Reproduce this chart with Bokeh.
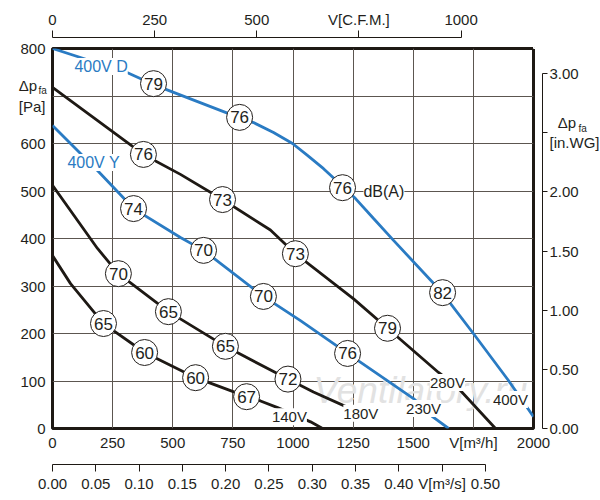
from bokeh.plotting import figure
from bokeh.models import LinearAxis, Range1d, FixedTicker, Label, NumeralTickFormatter
from bokeh.core.properties import value
from bokeh.embed import file_html
from bokeh.resources import INLINE

# fan curves: air volume V [m3/h] against static pressure dp_fa [Pa]
d400_q = [0, 312, 420, 773, 836, 919, 998, 1060, 1127, 1206, 1260, 1335, 1418, 1617, 1750, 1896, 2000]
d400_p = [800, 749, 724, 655, 644, 623, 600, 575, 547, 510, 484, 442, 396, 288, 200, 101, 25]

y400_q = [0, 187, 337, 532, 628, 877, 1031, 1227, 1501, 1580, 1647]
y400_p = [638, 543, 463, 402, 375, 278, 227, 158, 63, 25, 0]

v280_q = [0, 378, 532, 707, 906, 1010, 1252, 1393, 1605, 1676, 1842]
v280_p = [718, 577, 535, 482, 418, 368, 273, 211, 118, 91, 0]

v180_q = [0, 187, 274, 482, 719, 979, 1085, 1225]
v180_p = [512, 379, 326, 246, 173, 104, 77, 45]

v140_q = [0, 75, 212, 383, 595, 807, 865, 936, 1073, 1123]
v140_p = [364, 305, 221, 160, 107, 67, 58, 44, 14, 0]

# sound level markers dB(A)
db_q = [420, 778, 1206, 1622,
        378, 707, 1010, 1393,
        337, 628, 877, 1227,
        274, 482, 719, 979,
        212, 383, 595, 807]
db_p = [726, 655, 507, 286,
        577, 482, 368, 211,
        463, 375, 278, 158,
        326, 246, 173, 104,
        221, 160, 107, 67]
db_val = ["79", "76", "76", "82",
          "76", "73", "73", "79",
          "74", "70", "70", "76",
          "70", "65", "65", "72",
          "65", "60", "60", "67"]

q_ticks = [0, 250, 500, 750, 1000, 1250, 1500, 1750, 2000]
p_ticks = [0, 100, 200, 300, 400, 500, 600, 700, 800]
cfm_ticks = [0, 250, 500, 750, 1000]
ms_ticks = [0.0, 0.05, 0.1, 0.15, 0.2, 0.25, 0.3, 0.35, 0.4, 0.45, 0.5]
wg_ticks = [0.0, 0.5, 1.0, 1.5, 2.0, 2.5, 3.0]

dark = "#1e1914"
blue = "#2a7bc3"
txt = "#231f1c"
font = "Liberation Sans"
nb = "\u00a0"

p = figure(frame_width=481, frame_height=380,
           x_range=Range1d(0, 2000), y_range=Range1d(0, 800),
           output_backend="svg", toolbar_location=None, tools="",
           min_border_left=52, min_border_right=60,
           min_border_top=48, min_border_bottom=68)
p.outline_line_color = dark
p.outline_line_width = 3

p.xgrid.ticker = FixedTicker(ticks=q_ticks)
p.ygrid.ticker = FixedTicker(ticks=p_ticks)
for g in (p.xgrid, p.ygrid):
    g.grid_line_color = "#5c5650"
    g.grid_line_width = 1


def style(ax, size="15px"):
    ax.major_label_text_font = font
    ax.major_label_text_font_size = size
    ax.major_label_text_color = txt
    ax.axis_line_color = dark
    ax.major_tick_line_color = dark
    ax.minor_tick_line_color = None
    ax.major_tick_in = 0
    ax.minor_tick_out = 0


def spacer(px, tick, **kw):
    # invisible axis that only pushes the next axis away from the frame
    ax = LinearAxis(ticker=FixedTicker(ticks=[tick]), **kw)
    ax.axis_line_color = None
    ax.major_tick_line_color = "white"
    ax.minor_tick_line_color = None
    ax.major_tick_in = 0
    ax.major_tick_out = px
    ax.minor_tick_out = 0
    ax.major_label_standoff = 0
    ax.major_label_text_color = None
    ax.major_label_overrides = {tick: ""}
    return ax


def sub(x, y, t, place):
    # small subscript text; living in a side panel keeps it from being clipped
    p.add_layout(Label(x=x, y=y, text=t, text_color=txt, text_font=font,
                       text_font_size="10px", text_align="left",
                       text_baseline="middle"), place)


# primary axes
xa = p.xaxis[0]
style(xa)
xa.ticker = FixedTicker(ticks=q_ticks)
xa.major_label_overrides = {1750: "V[m³/h]"}
xa.axis_line_color = None
xa.major_tick_line_color = None
xa.major_tick_out = 0
xa.major_label_standoff = 5

ya = p.yaxis[0]
style(ya)
ya.ticker = FixedTicker(ticks=p_ticks)
ya.major_label_overrides = {700: "Δp" + nb + nb + "\n[Pa]"}
ya.axis_line_color = None
ya.major_tick_line_color = None
ya.major_tick_out = 0
ya.major_label_standoff = 7
sub(-58, 712, "fa", "left")

# secondary axes
p.extra_x_ranges = {"cfm": Range1d(0, 2000 / 1.699011),
                    "ms": Range1d(0, 2000 / 3600)}
p.extra_y_ranges = {"wg": Range1d(0, 800 / 249.0889)}

p.add_layout(spacer(11, 2000), "above")
top = LinearAxis(x_range_name="cfm", ticker=FixedTicker(ticks=cfm_ticks), bounds=(0, 1000))
style(top)
top.major_tick_out = 7
top.major_label_standoff = 3
top.major_label_overrides = {750: "V[C.F.M.]"}
p.add_layout(top, "above")

sub(2187, 632, "fa", "below")  # also keeps the m3/s axis off the upper scale
bot = LinearAxis(x_range_name="ms", ticker=FixedTicker(ticks=ms_ticks), bounds=(0, 0.5),
                 formatter=NumeralTickFormatter(format="0.00"))
style(bot)
bot.major_tick_out = 7
bot.major_label_standoff = 3
bot.major_label_overrides = {0.45: "V[m³/s]"}
p.add_layout(bot, "below")

p.add_layout(spacer(9, 800), "right")
rt = LinearAxis(y_range_name="wg", ticker=FixedTicker(ticks=wg_ticks), bounds=(0, 3),
                formatter=NumeralTickFormatter(format="0.00"))
style(rt)
rt.major_tick_out = 5
rt.major_label_standoff = 2
rt.major_label_overrides = {2.5: nb + nb + "Δp\n[in.WG]"}
p.add_layout(rt, "right")

# watermark
p.text(x=[1085], y=[80], text=["Ventilatory.ru"], text_font=value(font),
       text_font_style="italic", text_font_size="37px", text_color="#e2e2e2",
       text_baseline="middle")

# curves
for q, pr, c in [(d400_q, d400_p, blue), (y400_q, y400_p, blue),
                 (v280_q, v280_p, dark), (v180_q, v180_p, dark), (v140_q, v140_p, dark)]:
    p.line(q, pr, line_color=c, line_width=2.8)

p.scatter(db_q, db_p, marker="circle", size=26, fill_color="white",
          line_color=txt, line_width=1)
p.text(db_q, db_p, text=db_val, text_align="center", text_baseline="middle",
       text_font=value(font), text_font_size="17px", text_color=txt)


def lab(x, y, t, color=txt, size="15px", align="center"):
    p.add_layout(Label(x=x, y=y, text=t, text_color=color, text_font=font,
                       text_font_size=size, text_align=align, text_baseline="middle",
                       background_fill_color="white"))


lab(91, 762, "400V D", blue, "16px", align="left")
lab(62, 560, "400V Y", blue, "16px", align="left")
lab(1293, 500, "dB(A)", size="16px", align="left")
lab(985, 25, "140V")
lab(1282, 32, "180V")
lab(1543, 42, "230V")
lab(1642, 97, "280V")
lab(1904, 61, "400V")

open("out.html", "w").write(file_html(p, INLINE))
